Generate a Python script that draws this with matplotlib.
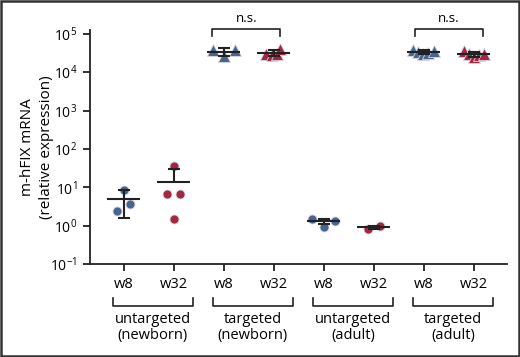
#
# m-hFIX mRNA scatter with mean +/- SD, log scale
#
import numpy as np
import matplotlib.pyplot as plt
from matplotlib.patches import Rectangle

plt.rcParams['font.family'] = ['Open Sans', 'DejaVu Sans']
plt.rcParams['mathtext.fontset'] = 'custom'
plt.rcParams['mathtext.rm'] = 'Open Sans'
#
# Data
#
groups = ['untargeted\n(newborn)', 'targeted\n(newborn)', 'untargeted\n(adult)', 'targeted\n(adult)']
timepoints = ['w8', 'w32']
markers = ['o', '^', 'o', '^']

# one list per (group, timepoint), order: w8, w32
vals = [
    [8.3, 3.7, 2.4], [36.0, 6.5, 6.5, 1.5],
    [38000, 38000, 26000], [29000, 28000, 30000, 41000],
    [1.47, 1.35, 0.94], [0.82, 1.0],
    [38000, 33000, 30000, 31000, 36000], [36000, 30000, 25000, 28000, 30000],
]
jitter = [
    [0.0, 0.12, -0.13], [0.0, -0.14, 0.12, 0.0],
    [-0.22, 0.22, 0.0], [-0.16, -0.04, 0.06, 0.12],
    [-0.23, 0.22, 0.0], [-0.12, 0.12],
    [-0.21, -0.11, -0.01, 0.09, 0.2], [-0.2, -0.1, 0.0, 0.1, 0.2],
]
means = [5.0, 13.5, 34000, 32000, 1.3, 0.91, 34000, 30000]
sds = [3.4, 16.0, 7500, 6000, 0.22, 0.09, 3500, 4500]

blue = '#47658f'
red = '#a3283f'
#
# Plot
#
fig = plt.figure(figsize=(5.2, 3.57), dpi=100)
ax = fig.add_axes([0.173, 0.2605, 0.802, 0.6555])
ax.set_yscale('log')

for k in range(8):
    g, t = divmod(k, 2)
    col = blue if t == 0 else red
    m = markers[g]
    ms = 6.5 if m == 'o' else 8
    x = k + np.array(jitter[k])
    ax.plot(x, vals[k], ls='none', marker=m, ms=ms, mfc=col, mec='#d9d9e6',
            mew=0.6, zorder=3)
    # mean line and SD bars
    mu, sd = means[k], sds[k]
    ax.hlines(mu, k - 0.33, k + 0.33, color='#222222', lw=1.5, zorder=4)
    ax.vlines(k, mu, mu + sd, color='#222222', lw=1.5, zorder=4)
    ax.hlines(mu + sd, k - 0.12, k + 0.12, color='#222222', lw=1.5, zorder=4)
    if mu - sd > 0:
        ax.vlines(k, mu - sd, mu, color='#222222', lw=1.5, zorder=4)
        ax.hlines(mu - sd, k - 0.12, k + 0.12, color='#222222', lw=1.5, zorder=4)

ax.set_xlim(-0.68, 7.66)
ax.set_ylim(0.1, 10**5.1)
ax.set_xticks(range(8))
ax.set_xticklabels(timepoints * 4, fontsize=10.5)
ax.set_yticks([10.0**p for p in range(-1, 6)])
ax.set_yticklabels([r'$10^{%d}$' % p for p in range(-1, 6)], fontsize=10)
ax.yaxis.set_minor_locator(plt.NullLocator())
ax.tick_params(length=5, width=1.3, color='#222222', pad=4)
for s in ['top', 'right']:
    ax.spines[s].set_visible(False)
for s in ['left', 'bottom']:
    ax.spines[s].set_linewidth(1.3)
    ax.spines[s].set_color('#222222')
ax.set_ylabel('m-hFIX mRNA\n(relative expression)', fontsize=11,
              linespacing=1.3)
ax.yaxis.set_label_coords(-0.087, 0.5)

# group brackets under the axis
tr = ax.get_xaxis_transform()
for g, name in enumerate(groups):
    x0, x1 = 2 * g - 0.22, 2 * g + 1.38
    ax.plot([x0, x0, x1, x1], [-0.145, -0.179, -0.179, -0.145], color='#222222',
            lw=1.2, transform=tr, clip_on=False)
    ax.text((x0 + x1) / 2, -0.205, name, transform=tr, ha='center', va='top',
            fontsize=10.5, linespacing=1.1)

# n.s. brackets
for a, b in [(2 - 0.24, 3 + 0.13), (6 - 0.18, 7 + 0.18)]:
    ax.plot([a, a, b, b], [10**4.95, 10**5.12, 10**5.12, 10**4.95], color='#222222',
            lw=1.2, clip_on=False)
    ax.text((a + b) / 2, 10**5.24, 'n.s.', ha='center', va='bottom', fontsize=9.5)

fig.patches.append(Rectangle((0.002, 0.003), 0.996, 0.994, transform=fig.transFigure,
                             fill=False, ec='#333333', lw=1.8))
fig.savefig('out.png', dpi=100)
